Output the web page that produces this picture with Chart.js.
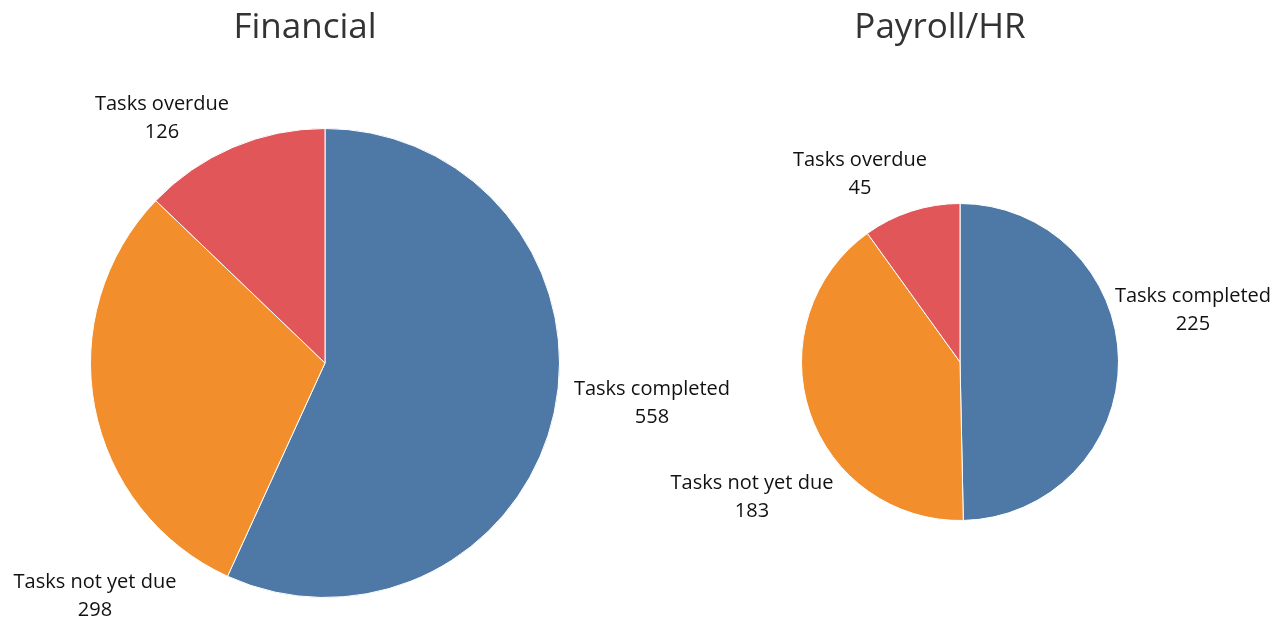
<!DOCTYPE html>
<html>
<head>
<meta charset="utf-8">
<script src="https://cdn.jsdelivr.net/npm/chart.js@4/dist/chart.umd.min.js"></script>
<style>
  html, body { margin: 0; padding: 0; background: #fff; }
  #wrap { position: relative; width: 1286px; height: 622px; }
  .box { position: absolute; top: 0; height: 622px; }
</style>
</head>
<body>
<div id="wrap">
  <div class="box" style="left:0;width:760px"><canvas id="financial_chart"></canvas></div>
  <div class="box" style="left:640px;width:646px"><canvas id="payroll_chart"></canvas></div>
</div>
<script>
// data
const categories = ['Tasks completed', 'Tasks not yet due', 'Tasks overdue'];
const financialValues = [558, 298, 126];
const payrollValues = [225, 183, 45];
const chartTitles = ['Financial', 'Payroll/HR'];
const sliceColors = ['#4E79A7', '#F28E2B', '#E15759'];

const FONT = '"Open Sans", "DejaVu Sans", sans-serif';

// 제목 + 조각 라벨 그리기
const pieText = {
  id: 'pieText',
  afterDraw(chart, args, opts) {
    const c = chart.ctx;
    const arc = chart.getDatasetMeta(0).data[0];
    const cx = arc.x, cy = arc.y;
    c.save();
    c.textAlign = 'center';
    c.textBaseline = 'alphabetic';
    c.fillStyle = '#333';
    c.font = '35px ' + FONT;
    c.fillText(opts.title, cx + opts.titleDx, 38);
    c.fillStyle = '#111';
    c.font = '500 20px ' + FONT;
    const values = chart.data.datasets[0].data;
    chart.data.labels.forEach((lab, i) => {
      const [dx, dy] = opts.offsets[i];
      c.fillText(lab, cx + dx, cy + dy);
      c.fillText(String(values[i]), cx + dx, cy + dy + 28);
    });
    c.restore();
  }
};

function makePie(id, title, values, padding, titleDx, offsets) {
  const ctx = document.getElementById(id).getContext('2d');
  return new Chart(ctx, {
    type: 'pie',
    data: {
      labels: categories,
      datasets: [{
        data: values,
        backgroundColor: sliceColors,
        borderColor: '#ffffff',
        borderWidth: 1
      }]
    },
    options: {
      responsive: true,
      maintainAspectRatio: false,
      animation: false,
      layout: { padding: padding },
      plugins: {
        legend: { display: false },
        tooltip: { enabled: false },
        pieText: { title: title, titleDx: titleDx, offsets: offsets }
      }
    },
    plugins: [pieText]
  });
}

makePie('financial_chart', chartTitles[0], financialValues,
  { left: 90, right: 200, top: 128, bottom: 24 }, -20,
  [[327, 32], [-230, 225], [-163, -253]]);

makePie('payroll_chart', chartTitles[1], payrollValues,
  { left: 161, right: 167, top: 203, bottom: 101 }, -20,
  [[233, -60], [-208, 127], [-100, -196]]);
</script>
</body>
</html>
